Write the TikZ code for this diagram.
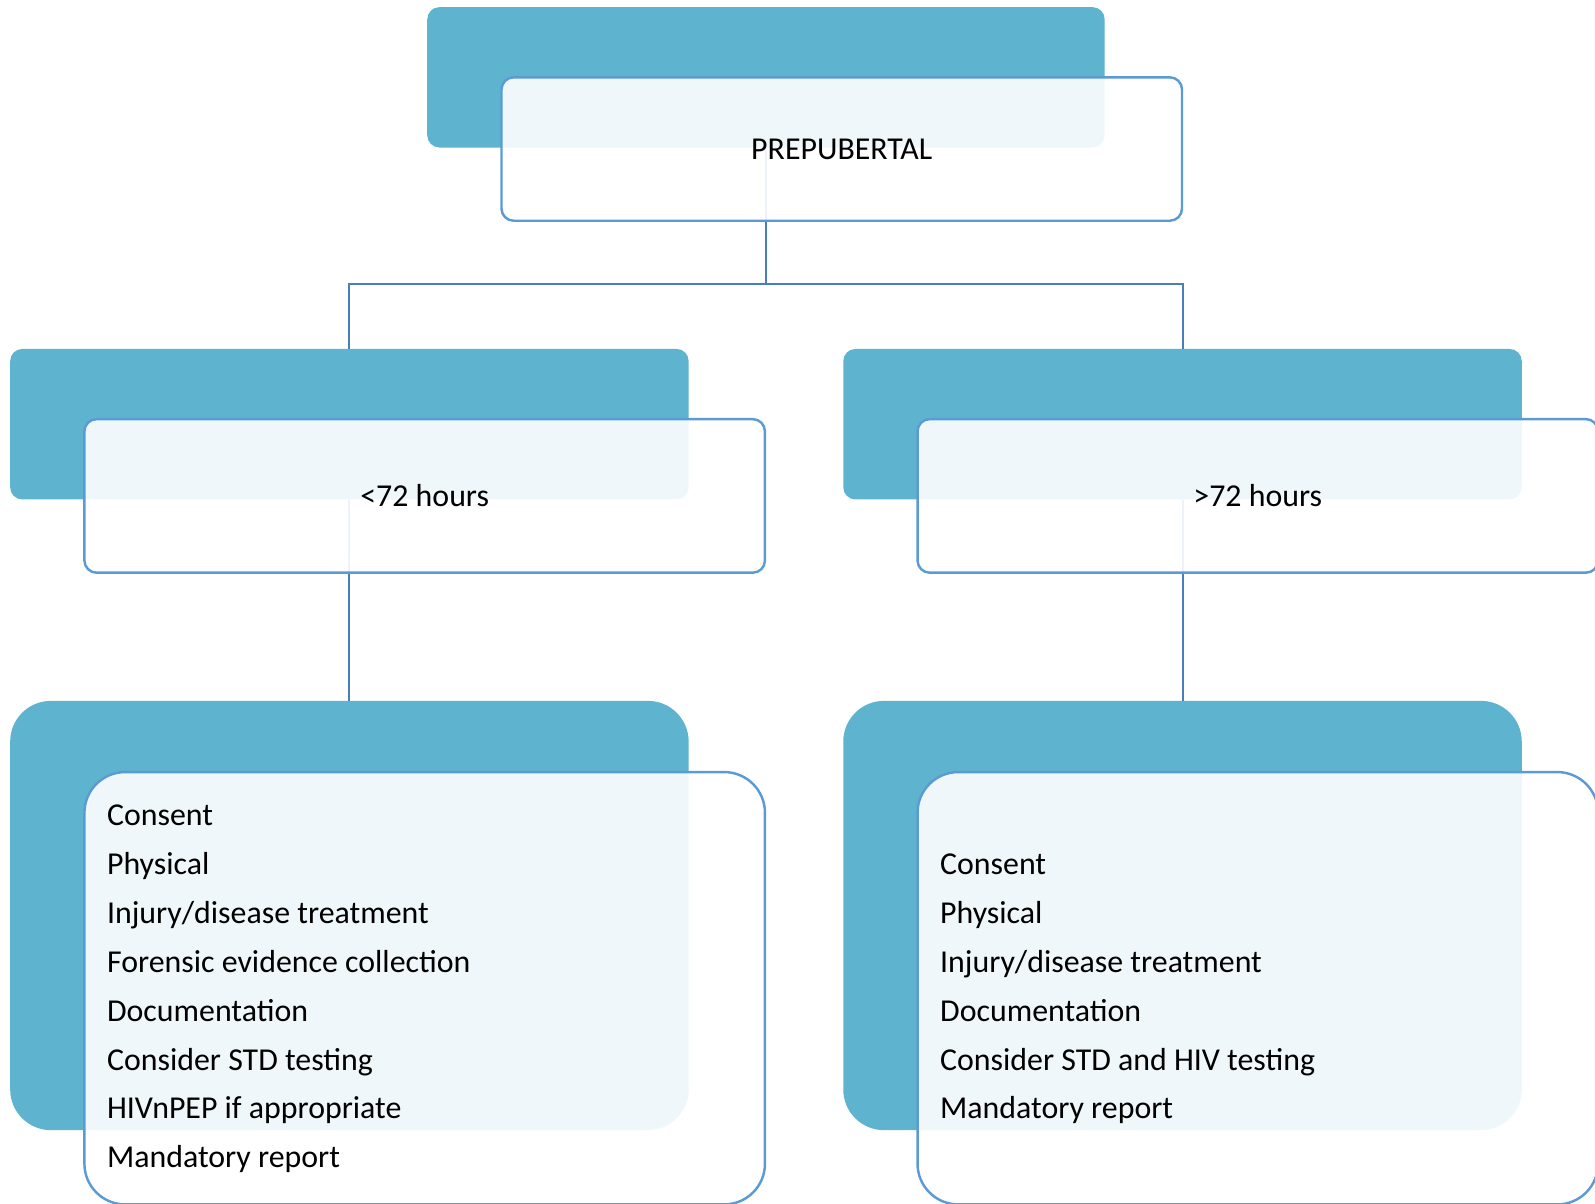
\documentclass[tikz,border=0pt]{standalone}
\usepackage{fontspec}
\setmainfont{Carlito}
\definecolor{boxblue}{HTML}{5EB4CE}
\definecolor{edgeblue}{HTML}{5B9BD5}
\definecolor{linkblue}{HTML}{4A7EBB}
\begin{document}
\begin{tikzpicture}[x=0.75pt,y=-0.75pt,
  back/.style={draw=none,fill=boxblue,inner sep=0pt},
  front/.style={draw=edgeblue,line width=1.8pt,fill=white,fill opacity=0.9,text opacity=1,inner sep=0pt,font=\fontsize{23.5}{28}\selectfont},
  link/.style={draw=linkblue,line width=1.5pt},
  item/.style={anchor=base west,inner sep=0pt,font=\fontsize{23.5}{28}\selectfont}]
\useasboundingbox (0,0) rectangle (1568,1183);
\clip (0,0) rectangle (1568,1183);
% back boxes
\node[back,rounded corners=9pt,minimum width=499.5pt,minimum height=103.5pt] (tb) at (753,76) {};
\node[back,rounded corners=9pt,minimum width=500.25pt,minimum height=111pt] (lb) at (343.5,417) {};
\node[back,rounded corners=9pt,minimum width=500.25pt,minimum height=111pt] (rb) at (1162.5,417) {};
\node[back,rounded corners=30pt,minimum width=500.25pt,minimum height=316.5pt] (lbb) at (343.5,900) {};
\node[back,rounded corners=30pt,minimum width=500.25pt,minimum height=316.5pt] (rbb) at (1162.5,900) {};
% connectors
\coordinate (j) at (753,279);
\draw[link] (tb.south) -- (j) -| (lb.north);
\draw[link] (j) -| (rb.north);
\draw[link] (lb.south) -- (lbb.north);
\draw[link] (rb.south) -- (rbb.north);
% front boxes
\node[front,rounded corners=9pt,minimum width=501.75pt,minimum height=105.75pt] (tw) at (827.5,146.5) {PREPUBERTAL};
\node[front,rounded corners=9pt,minimum width=501.75pt,minimum height=113.25pt] (lw) at (417.5,487.5) {<72 hours};
\node[front,rounded corners=9pt,minimum width=501.75pt,minimum height=113.25pt] (rw) at (1236.5,487.5) {>72 hours};
\node[front,rounded corners=30pt,minimum width=501.75pt,minimum height=318.75pt] (lbw) at (417.5,971.5) {};
\node[front,rounded corners=30pt,minimum width=501.75pt,minimum height=318.75pt] (rbw) at (1236.5,971.5) {};
% lists
\foreach \t [count=\i] in {Consent,Physical,Injury/disease treatment,Forensic evidence collection,Documentation,Consider STD testing,HIVnPEP if appropriate,Mandatory report}
  \node[item] (L\i) at (105,{812+48*(\i-1)}) {\t};
\foreach \t [count=\i] in {Consent,Physical,Injury/disease treatment,Documentation,Consider STD and HIV testing,Mandatory report}
  \node[item] (R\i) at (924,{860+48*(\i-1)}) {\t};
\end{tikzpicture}
\end{document}
